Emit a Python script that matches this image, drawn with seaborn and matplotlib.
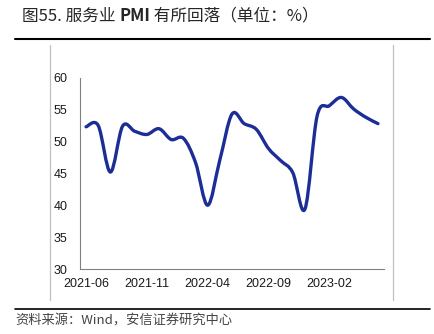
import numpy as np
import pandas as pd
import matplotlib
matplotlib.use("Agg")
import matplotlib.pyplot as plt
from matplotlib.path import Path
from matplotlib.patches import PathPatch
from matplotlib.lines import Line2D
import seaborn as sns

# ---- data ----
months = ["2021-06", "2021-07", "2021-08", "2021-09", "2021-10", "2021-11", "2021-12",
          "2022-01", "2022-02", "2022-03", "2022-04", "2022-05", "2022-06", "2022-07",
          "2022-08", "2022-09", "2022-10", "2022-11", "2022-12", "2023-01", "2023-02",
          "2023-03", "2023-04", "2023-05", "2023-06"]
pmi = [52.3, 52.5, 45.2, 52.4, 51.6, 51.1, 52.0, 50.3, 50.5, 46.7, 40.0, 47.1, 54.3,
       52.8, 51.9, 48.9, 47.0, 45.1, 39.4, 54.0, 55.6, 56.9, 55.1, 53.8, 52.8]
tick_labels = ["2021-06", "2021-11", "2022-04", "2022-09", "2023-02"]
yticks = [30, 35, 40, 45, 50, 55, 60]
title_parts = ["图55. 服务业 ", "PMI", " 有所回落（单位：%）"]
source = "资料来源：Wind，安信证券研究中心"

sns.set_style("white")
plt.rcParams["font.family"] = ["Liberation Sans", "Noto Sans CJK SC", "DejaVu Sans"]
cjk = ["Noto Sans CJK SC", "DejaVu Sans"]

W, H = 434, 334
fig = plt.figure(figsize=(W / 100, H / 100), dpi=100)
ax = fig.add_axes([80 / W, 65 / H, 304 / W, 191.3 / H])

df = pd.DataFrame({"month": months, "pmi": pmi})
df["idx"] = np.arange(len(df))
line_color = "#1d2d96"
sns.lineplot(data=df, x="idx", y="pmi", ax=ax, color=line_color, lw=2.4)

# smooth the drawn line (Excel-style smoothed line) using the plotted data
ln = ax.get_lines()[0]
xd, yd = np.asarray(ln.get_xdata(), float), np.asarray(ln.get_ydata(), float)
pts = np.column_stack([xd, yd])
verts = [pts[0]]
codes = [Path.MOVETO]
n = len(pts)
for i in range(n - 1):
    p0 = pts[i - 1] if i > 0 else pts[i]
    p1 = pts[i]
    p2 = pts[i + 1]
    p3 = pts[i + 2] if i + 2 < n else pts[i + 1]
    c1 = p1 + (p2 - p0) / 6.0
    c2 = p2 - (p3 - p1) / 6.0
    verts += [c1, c2, p2]
    codes += [Path.CURVE4] * 3
ln.set_visible(False)
ax.add_patch(PathPatch(Path(verts, codes), facecolor="none", edgecolor=line_color,
                       lw=2.4, capstyle="round", joinstyle="round"))

ax.set_xlim(-0.5, len(months) - 0.5)
ax.set_ylim(30, 60)
ax.set_xlabel("")
ax.set_ylabel("")
ax.set_yticks(yticks)
ax.set_xticks(np.arange(-0.5, len(months), 5))
ax.set_xticklabels([])
ax.set_xticks([months.index(m) for m in tick_labels], minor=True)
ax.set_xticklabels(tick_labels, minor=True)
ax.tick_params(axis="x", which="major", direction="in", length=3, color="#808080", width=0.8)
ax.tick_params(axis="x", which="minor", length=0, pad=6.5, labelsize=9, labelcolor="#1a1a1a")
ax.tick_params(axis="y", direction="in", length=3, color="#808080", width=0.8, pad=9,
               labelsize=9, labelcolor="#1a1a1a")
for lab in ax.get_xticklabels(minor=True) + ax.get_yticklabels():
    lab.set_family("Liberation Sans")
for s in ["top", "right"]:
    ax.spines[s].set_visible(False)
for s in ["left", "bottom"]:
    ax.spines[s].set_color("#808080")
    ax.spines[s].set_linewidth(0.8)

# frame lines
fig.add_artist(Line2D([15 / W, 430 / W], [1 - 39 / H] * 2, color="black", lw=1.5))
fig.add_artist(Line2D([15 / W, 430 / W], [1 - 309 / H] * 2, color="black", lw=1.2))
for xv in (50, 393):
    fig.add_artist(Line2D([xv / W] * 2, [1 - 45 / H, 1 - 300 / H], color="#c0c0c0", lw=0.9))

# title in pieces (PMI bold)
fig.canvas.draw()
renderer = fig.canvas.get_renderer()
x = 22 / W
for i, part in enumerate(title_parts):
    t = fig.text(x, 1 - 16 / H, part, ha="left", va="center", fontsize=12,
                 color="#262626", family=cjk,
                 fontweight="bold" if part == "PMI" else "normal")
    bb = t.get_window_extent(renderer)
    x = (bb.x1) / W

fig.text(15 / W, 1 - 321 / H, source, ha="left", va="center", fontsize=9.5,
         color="#444444", family=cjk, style="italic")

fig.savefig("out.png", dpi=100)
